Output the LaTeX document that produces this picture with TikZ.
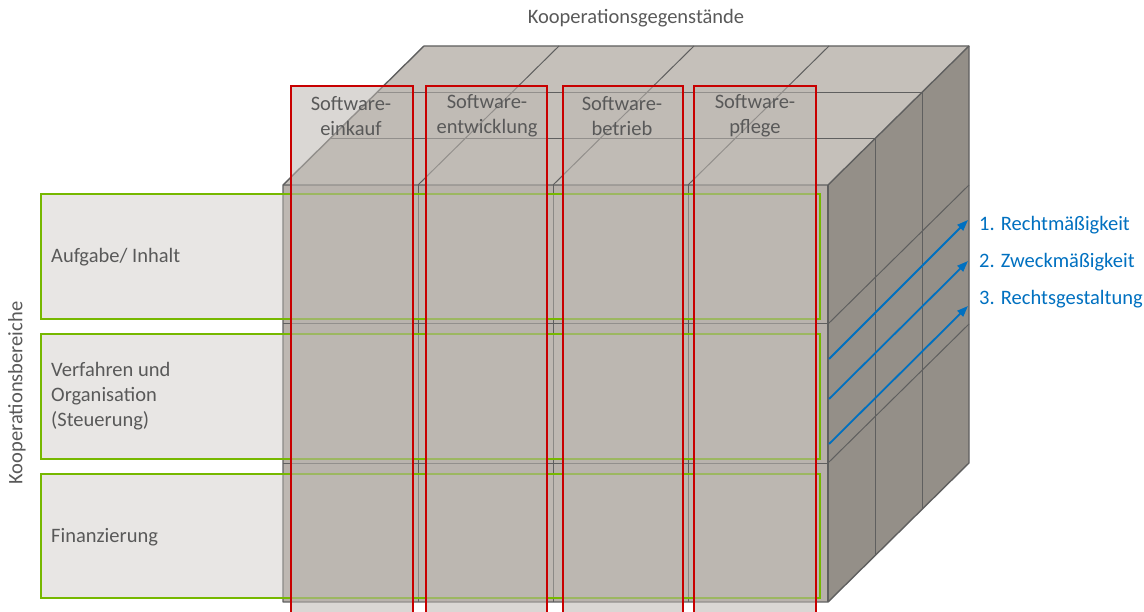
\documentclass[tikz,border=0pt]{standalone}
\usepackage{fontspec}
\setmainfont{Carlito}
\usetikzlibrary{arrows.meta}
\definecolor{txt}{RGB}{89,89,89}
\definecolor{edgec}{RGB}{95,95,95}
\definecolor{cfront}{RGB}{183,176,170}
\definecolor{ctop}{RGB}{197,192,186}
\definecolor{cright}{RGB}{148,143,136}
\definecolor{grn}{RGB}{118,184,0}
\definecolor{gfill}{RGB}{200,196,190}
\definecolor{rd}{RGB}{200,0,0}
\definecolor{rfill}{RGB}{188,183,177}
\definecolor{blu}{RGB}{0,112,192}
\begin{document}
\begin{tikzpicture}[x=1pt,y=-1pt,
  faceline/.style={draw=edgec, line width=1.4pt, line join=round},
  gridline/.style={draw=edgec, line width=1pt},
  rowbox/.style={draw=grn, line width=2.2pt, fill=gfill, fill opacity=0.42},
  colbox/.style={draw=rd, line width=2.2pt, fill=rfill, fill opacity=0.55},
  lbl/.style={text=txt, font=\fontsize{20.5}{25}\selectfont, inner sep=0pt},
  pil/.style={draw=blu, line width=1.8pt, -{Triangle[length=11pt,width=8pt]}},
  leg/.style={text=blu, font=\fontsize{20.5}{25}\selectfont, anchor=west, inner sep=0pt}]
\useasboundingbox (0,0) rectangle (1144,612);

% cube faces
\fill[cfront] (283,185) rectangle (828,602);
\fill[ctop] (283,185) -- (424,46) -- (969,46) -- (828,185) -- cycle;
\fill[cright] (828,185) -- (969,46) -- (969,463) -- (828,602) -- cycle;
% grid on front face
\foreach \x in {418,553,688} \draw[gridline] (\x,185) -- (\x,602);
\foreach \y in {324,463} \draw[gridline] (283,\y) -- (828,\y);
% grid on top face
\foreach \x in {418,553,688} \draw[gridline] (\x,185) -- ++(141,-139);
\draw[gridline] (330,138.7) -- (875,138.7);
\draw[gridline] (377,92.3) -- (922,92.3);
% grid on right face
\draw[gridline] (875,138.7) -- (875,555.7);
\draw[gridline] (922,92.3) -- (922,509.3);
\draw[gridline] (828,324) -- (969,185);
\draw[gridline] (828,463) -- (969,324);
% outline
\draw[faceline] (283,602) -- (283,185) -- (424,46) -- (969,46) -- (969,463) -- (828,602) -- cycle;
\draw[faceline] (283,185) -- (828,185) -- (969,46);
\draw[faceline] (828,185) -- (828,602);

% rows (Kooperationsbereiche)
\draw[rowbox] (41,194) rectangle (820,319);
\draw[rowbox] (41,334) rectangle (820,459);
\draw[rowbox] (41,474) rectangle (820,598);

% columns (Kooperationsgegenstaende)
\draw[colbox] (291,86) rectangle (413,622);
\draw[colbox] (426,86) rectangle (547,622);
\draw[colbox] (563,86) rectangle (683,622);
\draw[colbox] (694,86) rectangle (816,622);

% texts
\node[lbl] (title) at (636,18) {Kooperationsgegenstände};
\node[lbl, rotate=90] (side) at (17,393) {Kooperationsbereiche};
\node[lbl, align=center] (c1) at (351,116) {Software-\\einkauf};
\node[lbl, align=center] (c2) at (487,116) {Software-\\entwicklung};
\node[lbl, align=center] (c3) at (622,116) {Software-\\betrieb};
\node[lbl, align=center] (c4) at (755,116) {Software-\\pflege};
\node[lbl, anchor=west] (r1) at (51,257) {Aufgabe/ Inhalt};
\node[lbl, anchor=west, align=left] (r2) at (51,396) {Verfahren und\\Organisation\\(Steuerung)};
\node[lbl, anchor=west] (r3) at (51,537) {Finanzierung};

% arrows and legend
\coordinate (a1s) at (829,359);
\coordinate (a1e) at (968,220);
\coordinate (a2s) at (829,399);
\coordinate (a2e) at (968,261);
\coordinate (a3s) at (829,444);
\coordinate (a3e) at (968,306);
\draw[pil] (a1s) -- (a1e);
\draw[pil] (a2s) -- (a2e);
\draw[pil] (a3s) -- (a3e);
\node[leg] (l1) at (979,225) {1. Rechtmäßigkeit};
\node[leg] (l2) at (979,262) {2. Zweckmäßigkeit};
\node[leg] (l3) at (979,299) {3. Rechtsgestaltung};
\end{tikzpicture}
\end{document}
